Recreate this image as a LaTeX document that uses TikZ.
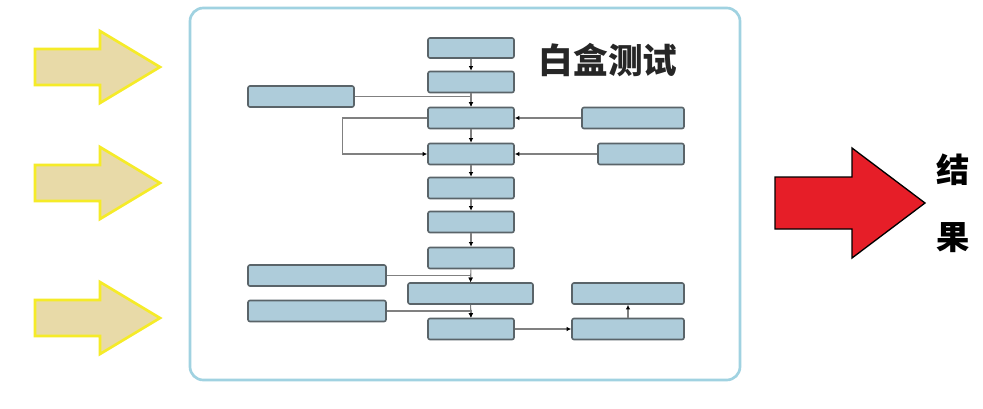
\documentclass[tikz,border=0pt]{standalone}
\usepackage{fontspec}
\newfontfamily\cjk{Noto Sans CJK SC}
\usetikzlibrary{positioning, arrows.meta}
\definecolor{boxfill}{RGB}{174,204,218}
\definecolor{boxline}{RGB}{90,100,105}
\definecolor{framecol}{RGB}{160,210,225}
\definecolor{tan}{RGB}{232,218,168}
\definecolor{yel}{RGB}{245,235,40}
\definecolor{redarrow}{RGB}{230,30,40}
\begin{document}
\begin{tikzpicture}[x=0.0264cm, y=-0.0264cm,
  flowbox/.style={draw=boxline, line width=1.2pt, fill=boxfill, rounded corners=1.5pt, inner sep=0pt},
  link/.style={draw=gray, line width=0.8pt, -{Latex[length=3.5pt,width=3.5pt,fill=black,color=black]}}]
\useasboundingbox (0,0) rectangle (983,408);
\fill[white] (0,0) rectangle (983,408);
% frame
\draw[framecol, line width=2pt, rounded corners=10pt] (190,8) rectangle (740,380);
% input arrows
\foreach \y in {67,183,318}
  \draw[yel, line width=2pt, fill=tan] (35,\y-18) -- (100,\y-18) -- (100,\y-36) -- (160,\y)
    -- (100,\y+36) -- (100,\y+18) -- (35,\y+18) -- cycle;
% result arrow
\draw[black, line width=1pt, fill=redarrow] (775,177) -- (852,177) -- (852,148) -- (925,203)
  -- (852,258) -- (852,229) -- (775,229) -- cycle;
\node[font=\cjk\bfseries\fontsize{25}{25}\selectfont] (r1) at (953,170) {结};
\node[font=\cjk\bfseries\fontsize{25}{25}\selectfont] (r2) at (953,238) {果};
\node[font=\cjk\bfseries\fontsize{26}{26}\selectfont, text=black!85] (title) at (608,60) {白盒测试};
% boxes
\node[flowbox, minimum width=86*0.0264cm, minimum height=20*0.0264cm] (b1) at (471,48) {};
\foreach \n/\y in {2/82,3/118,4/154,5/188,6/222,7/258,9/329}
  \node[flowbox, minimum width=86*0.0264cm, minimum height=21*0.0264cm] (b\n) at (471,\y) {};
\node[flowbox, minimum width=125*0.0264cm, minimum height=21*0.0264cm] (b8) at (470.5,293.5) {};
\node[flowbox, minimum width=106*0.0264cm, minimum height=21*0.0264cm] (l1) at (301,96.5) {};
\node[flowbox, minimum width=138*0.0264cm, minimum height=21*0.0264cm] (l2) at (317,275.5) {};
\node[flowbox, minimum width=138*0.0264cm, minimum height=21*0.0264cm] (l3) at (317,311) {};
\node[flowbox, minimum width=102*0.0264cm, minimum height=21*0.0264cm] (r1b) at (633,118) {};
\node[flowbox, minimum width=86*0.0264cm, minimum height=21*0.0264cm] (r2b) at (641,154) {};
\node[flowbox, minimum width=112*0.0264cm, minimum height=21*0.0264cm] (e1) at (628,329) {};
\node[flowbox, minimum width=112*0.0264cm, minimum height=21*0.0264cm] (e2) at (628,293.5) {};
% connectors
\foreach \a/\b in {b1/b2,b2/b3,b3/b4,b4/b5,b5/b6,b6/b7,b7/b8,b8/b9}
  \draw[link] (\a) -- (\b);
\draw[link] (l1.east) -- (l1.east -| b3) -- (b3.north);
\draw[link] (l2.east) -- (l2.east -| b8) -- (b8.north);
\draw[link] (l3.east) -- (l3.east -| b9) -- (b9.north);
\draw[link] (r1b) -- (b3);
\draw[link] (r2b) -- (b4);
\draw[link] (b3.west) -- ++(-85,0) |- (b4.west);
\draw[link] (b9) -- (e1);
\draw[link] (e1) -- (e2);
\end{tikzpicture}
\end{document}
